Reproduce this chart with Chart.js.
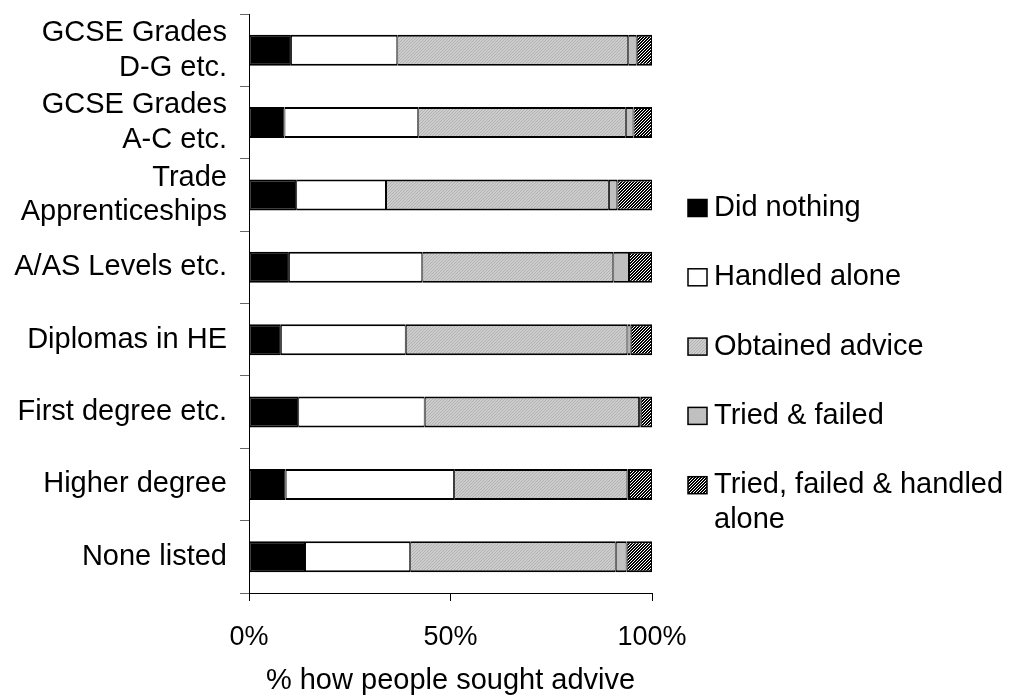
<!DOCTYPE html>
<html>
<head>
<meta charset="utf-8">
<script src="https://cdn.jsdelivr.net/npm/chart.js@4/dist/chart.umd.min.js"></script>
<style>
  html, body { margin: 0; padding: 0; background: #fff; }
  #wrap { width: 1012px; height: 697px; }
</style>
</head>
<body>
<div id="wrap"><canvas id="advice-chart" width="1012" height="697"></canvas></div>
<script>
// How people sought advice, by highest qualification

const categories = [
    ['GCSE Grades', 'D-G etc.'],
    ['GCSE Grades', 'A-C etc.'],
    ['Trade', 'Apprenticeships'],
    'A/AS Levels etc.',
    'Diplomas in HE',
    'First degree etc.',
    'Higher degree',
    'None listed'
];

const didNothing       = [10.4,  8.8, 11.7,  9.9,  7.9, 12.2,  9.1, 13.9];
const handledAlone     = [26.4, 33.2, 22.3, 33.1, 31.0, 31.4, 41.8, 26.1];
const obtainedAdvice   = [57.3, 51.5, 55.3, 47.4, 55.0, 53.2, 43.0, 51.0];
const triedFailed      = [ 2.1,  1.9,  2.1,  3.9,  0.8,  0.4,  0.4,  2.7];
const triedFailedAlone = [ 3.8,  4.6,  8.6,  5.7,  5.3,  2.8,  5.7,  6.3];

const seriesNames = ['Did nothing', 'Handled alone', 'Obtained advice', 'Tried & failed', ['Tried, failed & handled', 'alone']];
const xTicks = [0, 50, 100];

const fontFamily = "'Liberation Sans', Arial, sans-serif";
const fontSize = 29;
const tickFontSize = 27;

// fill patterns like the old office chart
function makePattern(size, bg, fg, test) {
    const c = document.createElement('canvas');
    c.width = size; c.height = size;
    const g = c.getContext('2d');
    g.fillStyle = bg;
    g.fillRect(0, 0, size, size);
    g.fillStyle = fg;
    for (let y = 0; y < size; y++) {
        for (let x = 0; x < size; x++) {
            if (test(x, y)) g.fillRect(x, y, 1, 1);
        }
    }
    return g.createPattern(c, 'repeat');
}

const ctx = document.getElementById('advice-chart').getContext('2d');
const fineGray = makePattern(3, '#cdcdcd', '#b2b2b2', (x, y) => (x + y) % 3 === 0);
const darkHatch = makePattern(3, '#ffffff', '#000000', (x, y) => (x + y) % 3 !== 0);

const fills = ['#000000', '#ffffff', fineGray, '#c0c0c0', darkHatch];
const series = [didNothing, handledAlone, obtainedAdvice, triedFailed, triedFailedAlone];

// legend on the right, drawn by hand so the last label can wrap
const sideLegend = {
    id: 'sideLegend',
    afterDraw(chart) {
        const c = chart.ctx;
        const boxX = 688, boxW = 19, boxH = 17, textX = 714;
        const firstY = 208, step = 69.3, lineGap = 35;
        c.save();
        c.font = fontSize + 'px ' + fontFamily;
        c.textBaseline = 'middle';
        chart.data.datasets.forEach((ds, i) => {
            const cy = firstY + i * step;
            c.fillStyle = ds.backgroundColor;
            c.fillRect(boxX, cy - boxH / 2, boxW, boxH);
            c.lineWidth = 1.5;
            c.strokeStyle = '#000';
            c.strokeRect(boxX, cy - boxH / 2, boxW, boxH);
            c.fillStyle = '#000';
            const lines = Array.isArray(ds.label) ? ds.label : [ds.label];
            lines.forEach((t, j) => c.fillText(t, textX, cy + j * lineGap));
        });
        c.restore();
    }
};

new Chart(ctx, {
    type: 'bar',
    data: {
        labels: categories,
        datasets: series.map((vals, i) => ({
            label: seriesNames[i],
            data: vals,
            backgroundColor: fills[i],
            borderColor: '#000',
            borderWidth: { top: 2, bottom: 2, left: 1, right: 1 },
            borderSkipped: false,
            barPercentage: 0.43,
            categoryPercentage: 1
        }))
    },
    options: {
        indexAxis: 'y',
        responsive: false,
        animation: false,
        layout: { padding: { top: 14, right: 360, left: 0, bottom: 0 } },
        plugins: {
            legend: { display: false },
            tooltip: { enabled: false }
        },
        scales: {
            x: {
                stacked: true,
                min: 0,
                max: 100,
                afterBuildTicks: (scale) => { scale.ticks = xTicks.map(v => ({ value: v })); },
                afterFit: (scale) => { scale.height = 104; scale.paddingLeft = 0; scale.paddingRight = 0; },
                grid: { drawOnChartArea: false, color: '#000', tickLength: 8 },
                border: { color: '#000', width: 1 },
                ticks: {
                    color: '#000',
                    padding: 20,
                    maxRotation: 0,
                    font: { family: fontFamily, size: tickFontSize },
                    callback: (v) => v + '%'
                },
                title: {
                    display: true,
                    text: '% how people sought advive',
                    color: '#000',
                    padding: { top: 0, bottom: 2 },
                    font: { family: fontFamily, size: fontSize, lineHeight: 1.0 }
                }
            },
            y: {
                stacked: true,
                afterFit: (scale) => { scale.width = 249; scale.paddingTop = 0; scale.paddingBottom = 0; },
                grid: { drawOnChartArea: false, color: '#666', tickLength: 9, offset: true },
                border: { color: '#000', width: 1 },
                ticks: {
                    color: '#000',
                    padding: 13,
                    autoSkip: false,
                    font: { family: fontFamily, size: fontSize, lineHeight: 1.2 }
                }
            }
        }
    },
    plugins: [sideLegend]
});
</script>
</body>
</html>
